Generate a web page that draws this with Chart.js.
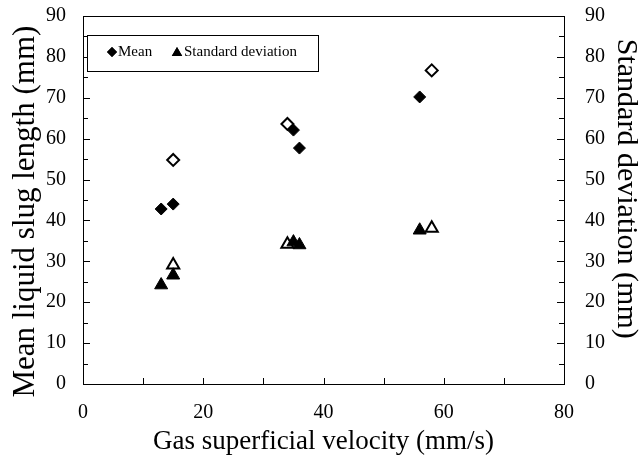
<!DOCTYPE html>
<html>
<head>
<meta charset="utf-8">
<script src="https://cdn.jsdelivr.net/npm/chart.js@4/dist/chart.umd.min.js"></script>
<style>
  html, body { margin: 0; padding: 0; background: #fff; }
  #wrap { width: 641px; height: 461px; }
</style>
</head>
<body>
<div id="wrap"><canvas id="slugChart" width="641" height="461"></canvas></div>
<script>
// values
const meanVelocity = [13, 15, 35, 36, 56];
const meanLength = [42.8, 44.0, 62.1, 57.7, 70.2];
const meanOpenVelocity = [15, 34, 58];
const meanOpenLength = [54.8, 63.6, 76.7];

const sdVelocity = [13, 15, 35, 36, 56];
const sdValue = [24.2, 26.6, 34.7, 34.0, 37.6];
const sdOpenVelocity = [15, 34, 58];
const sdOpenValue = [29.1, 34.2, 38.1];

const xTicks = [0, 20, 40, 60, 80];
const yTicks = [0, 10, 20, 30, 40, 50, 60, 70, 80, 90];

const serif = 'Liberation Serif';

function toPoints(xs, ys) {
    return xs.map((x, i) => ({ x: x, y: ys[i] }));
}

// frame, inner ticks and the little legend box
const framePlugin = {
    id: 'frame',
    beforeDatasetsDraw(chart) {
        const ctx = chart.ctx;
        const a = chart.chartArea;
        const x = chart.scales.x;
        const y = chart.scales.y;
        ctx.save();
        ctx.strokeStyle = '#000';
        ctx.lineWidth = 1;
        ctx.strokeRect(a.left + 0.5, a.top + 0.5, a.right - a.left, a.bottom - a.top);

        ctx.beginPath();
        for (let v = y.min; v <= y.max; v += 5) {
            const py = Math.round(y.getPixelForValue(v)) + 0.5;
            const len = v % 10 === 0 ? 7 : 5;
            ctx.moveTo(a.left, py);
            ctx.lineTo(a.left + len, py);
            ctx.moveTo(a.right, py);
            ctx.lineTo(a.right - len, py);
        }
        for (let v = x.min; v <= x.max; v += 10) {
            const px = Math.round(x.getPixelForValue(v)) + 0.5;
            ctx.moveTo(px, a.bottom);
            ctx.lineTo(px, a.bottom - 6);
        }
        ctx.stroke();
        ctx.restore();
    },
    afterDraw(chart) {
        const ctx = chart.ctx;
        const a = chart.chartArea;
        const bx = a.left + 4, by = a.top + 19, bw = 231, bh = 36;
        ctx.save();
        ctx.fillStyle = '#fff';
        ctx.fillRect(bx, by, bw, bh);
        ctx.strokeStyle = '#000';
        ctx.lineWidth = 1;
        ctx.strokeRect(bx + 0.5, by + 0.5, bw, bh);

        const cy = by + 17;
        ctx.fillStyle = '#000';
        Chart.helpers.drawPoint(ctx, { pointStyle: 'rectRot', radius: 5, borderWidth: 0 }, bx + 25, cy);
        ctx.fill();
        Chart.helpers.drawPoint(ctx, { pointStyle: 'triangle', radius: 6, borderWidth: 0 }, bx + 90, cy + 1);
        ctx.fill();

        ctx.font = '15px "' + serif + '"';
        ctx.textBaseline = 'middle';
        ctx.textAlign = 'left';
        ctx.fillText('Mean', bx + 31, cy);
        ctx.fillText('Standard deviation', bx + 97, cy);
        ctx.restore();
    }
};

// no extra room for half tick labels, the frame sits where the layout says
function noYPad(s, w) {
    s.width = w;
    s.paddingTop = 0;
    s.paddingBottom = 0;
}

const ctx = document.getElementById('slugChart').getContext('2d');
const chart = new Chart(ctx, {
    type: 'scatter',
    data: {
        datasets: [{
            label: 'Mean',
            data: toPoints(meanVelocity, meanLength),
            yAxisID: 'y',
            pointStyle: 'rectRot',
            pointRadius: 6,
            backgroundColor: '#000',
            borderColor: '#000',
            borderWidth: 1
        }, {
            label: 'Mean (open)',
            data: toPoints(meanOpenVelocity, meanOpenLength),
            yAxisID: 'y',
            pointStyle: 'rectRot',
            pointRadius: 6,
            backgroundColor: '#fff',
            borderColor: '#000',
            borderWidth: 2
        }, {
            label: 'Standard deviation',
            data: toPoints(sdVelocity, sdValue),
            yAxisID: 'y2',
            pointStyle: 'triangle',
            pointRadius: 7.5,
            backgroundColor: '#000',
            borderColor: '#000',
            borderWidth: 1
        }, {
            label: 'Standard deviation (open)',
            data: toPoints(sdOpenVelocity, sdOpenValue),
            yAxisID: 'y2',
            pointStyle: 'triangle',
            pointRadius: 7,
            backgroundColor: '#fff',
            borderColor: '#000',
            borderWidth: 2
        }]
    },
    options: {
        responsive: false,
        animation: false,
        layout: { padding: { top: 16, left: 0, right: 0, bottom: 0 } },
        plugins: {
            legend: { display: false },
            tooltip: { enabled: false }
        },
        scales: {
            x: {
                type: 'linear',
                min: 0,
                max: 80,
                afterFit: s => { s.height = 77; s.paddingLeft = 0; s.paddingRight = 0; },
                afterBuildTicks: s => { s.ticks = xTicks.map(v => ({ value: v })); },
                grid: { display: false, drawTicks: false },
                border: { display: false },
                ticks: { color: '#000', padding: 17, font: { family: serif, size: 20 } },
                title: {
                    display: true,
                    text: 'Gas superficial velocity (mm/s)',
                    color: '#000',
                    padding: { top: 0, bottom: 6 },
                    font: { family: serif, size: 27, lineHeight: 1 }
                }
            },
            y: {
                type: 'linear',
                position: 'left',
                min: 0,
                max: 90,
                afterFit: s => noYPad(s, 83),
                afterBuildTicks: s => { s.ticks = yTicks.map(v => ({ value: v })); },
                grid: { display: false, drawTicks: false },
                border: { display: false },
                ticks: { color: '#000', padding: 17, font: { family: serif, size: 20 } },
                title: {
                    display: true,
                    text: 'Mean liquid slug length (mm)   ',
                    color: '#000',
                    padding: { top: 10, bottom: 0 },
                    font: { family: serif, size: 31, lineHeight: 1 }
                }
            },
            y2: {
                type: 'linear',
                position: 'right',
                min: 0,
                max: 90,
                afterFit: s => noYPad(s, 77),
                afterBuildTicks: s => { s.ticks = yTicks.map(v => ({ value: v })); },
                grid: { display: false, drawTicks: false },
                border: { display: false },
                ticks: { color: '#000', padding: 21, font: { family: serif, size: 20 } },
                title: {
                    display: true,
                    text: 'Standard deviation (mm)   ',
                    color: '#000',
                    padding: { top: 0, bottom: 0 },
                    font: { family: serif, size: 30, lineHeight: 1 }
                }
            }
        }
    },
    plugins: [framePlugin]
});
</script>
</body>
</html>
